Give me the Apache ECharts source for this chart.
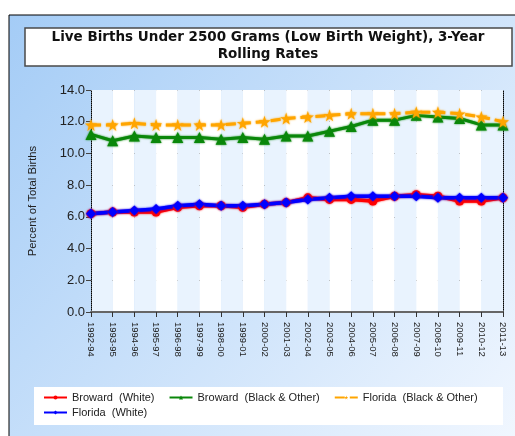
<!DOCTYPE html>
<html>
<head>
<meta charset="utf-8">
<title>Live Births Under 2500 Grams</title>
<script src="https://cdn.jsdelivr.net/npm/echarts@6/dist/echarts.min.js"></script>
<style>
  html, body { margin: 0; padding: 0; background: #fff; }
  #chart { width: 515px; height: 436px; }
</style>
</head>
<body>
<div id="chart"></div>
<script>
// 3-year periods
const periods = [
  '1992-94', '1993-95', '1994-96', '1995-97', '1996-98', '1997-99', '1998-00',
  '1999-01', '2000-02', '2001-03', '2002-04', '2003-05', '2004-06', '2005-07',
  '2006-08', '2007-09', '2008-10', '2009-11', '2010-12', '2011-13'
]

// percent of total births
const browardWhite = [6.2, 6.3, 6.3, 6.3, 6.6, 6.7, 6.7, 6.6, 6.8, 6.9, 7.2, 7.1, 7.1, 7.0, 7.3, 7.4, 7.3, 7.0, 7.0, 7.2]
const browardBlack = [11.2, 10.8, 11.1, 11.0, 11.0, 11.0, 10.9, 11.0, 10.9, 11.1, 11.1, 11.4, 11.7, 12.1, 12.1, 12.4, 12.3, 12.2, 11.8, 11.8]
const floridaBlack = [11.8, 11.8, 11.9, 11.8, 11.8, 11.8, 11.8, 11.9, 12.0, 12.2, 12.3, 12.4, 12.5, 12.5, 12.5, 12.6, 12.6, 12.5, 12.3, 12.0]
const floridaWhite = [6.2, 6.3, 6.4, 6.5, 6.7, 6.8, 6.7, 6.7, 6.8, 6.9, 7.1, 7.2, 7.3, 7.3, 7.3, 7.3, 7.2, 7.2, 7.2, 7.2]

const yTicks = { min: 0, max: 14, interval: 2 }

const names = ['Broward  (White)', 'Broward  (Black & Other)', 'Florida  (Black & Other)', 'Florida  (White)']

const STAR = 'path://M50,0 L61,35 L98,35 L68,57 L79,91 L50,70 L21,91 L32,57 L2,35 L39,35 Z'
const FONT = 'Liberation Sans, Arial, sans-serif'

const chart = echarts.init(document.getElementById('chart'))

const mkLine = (name, data, color, symbol, size, width, dash) => ({
  name,
  type: 'line',
  data,
  symbol,
  symbolSize: size,
  lineStyle: {
    color, width, type: dash || 'solid',
    shadowColor: color, shadowBlur: 2
  },
  itemStyle: { color, shadowColor: color, shadowBlur: 2 },
  emphasis: { disabled: true },
  animation: false
})

const legendCommon = {
  orient: 'horizontal',
  itemWidth: 23,
  itemHeight: 5,
  itemGap: 14,
  padding: 0,
  textStyle: { fontFamily: FONT, fontSize: 11, color: '#222' }
}

chart.setOption({
  backgroundColor: '#fff',
  graphic: [
    {
      type: 'rect', z: -100,
      shape: { x: 9, y: 15, width: 520, height: 440 },
      style: {
        fill: new echarts.graphic.LinearGradient(0, 0, 1, 1, [
          { offset: 0, color: '#a4ccf6' },
          { offset: 1, color: '#f3f8ff' }
        ]),
        stroke: '#000', lineWidth: 1
      }
    },
    {
      type: 'rect', z: -99,
      shape: { x: 25, y: 28, width: 487, height: 38 },
      style: { fill: '#fff', stroke: '#4a4a4a', lineWidth: 1.5 }
    },
    {
      type: 'rect', z: -99,
      shape: { x: 34, y: 387, width: 469, height: 38 },
      style: { fill: '#fff' }
    }
  ],
  title: {
    text: 'Live Births Under 2500 Grams (Low Birth Weight), 3-Year\nRolling Rates',
    left: 268,
    top: 29,
    padding: 0,
    textAlign: 'center',
    textStyle: {
      fontFamily: 'DejaVu Sans, Verdana, sans-serif',
      fontSize: 13.5,
      fontWeight: 'bold',
      color: '#111',
      lineHeight: 17
    }
  },
  legend: [
    Object.assign({ data: names.slice(0, 3), left: 43, top: 392 }, legendCommon),
    Object.assign({ data: names.slice(3), left: 43, top: 407 }, legendCommon)
  ],
  grid: { left: 91, right: 12, top: 90, bottom: 124, containLabel: false },
  xAxis: {
    type: 'category',
    data: periods,
    boundaryGap: false,
    axisLine: { lineStyle: { color: '#666', width: 2 } },
    axisTick: { show: true, length: 5, lineStyle: { color: '#333' } },
    axisLabel: {
      rotate: -90, margin: 10, interval: 0,
      fontFamily: FONT, fontSize: 9.5, color: '#222'
    },
    splitLine: { show: false },
    splitArea: { show: true, areaStyle: { color: ['#e9f3fe', '#ffffff'] } }
  },
  yAxis: [
    {
      type: 'value',
      min: yTicks.min, max: yTicks.max, interval: yTicks.interval,
      name: 'Percent of Total Births',
      nameLocation: 'middle',
      nameGap: 53,
      nameTextStyle: { fontFamily: FONT, fontSize: 11.3, color: '#222' },
      axisLine: { show: true, lineStyle: { color: '#000', type: 'dotted', width: 1 } },
      axisTick: { show: true, length: 5, lineStyle: { color: '#444' } },
      axisLabel: {
        margin: 6, fontFamily: FONT, fontSize: 13, color: '#222',
        formatter: v => v.toFixed(1)
      },
      splitLine: { lineStyle: { color: '#1a1a1a', width: 1 } }
    },
    {
      type: 'value', position: 'right',
      min: yTicks.min, max: yTicks.max, interval: yTicks.interval,
      axisLine: { show: true, lineStyle: { color: '#000', type: 'dotted', width: 1 } },
      axisTick: { show: false },
      axisLabel: { show: false },
      splitLine: { show: false }
    }
  ],
  series: [
    mkLine(names[0], browardWhite, '#ff0000', 'circle', 9, 3.5),
    mkLine(names[1], browardBlack, '#0a870a', 'triangle', 11, 3),
    mkLine(names[2], floridaBlack, '#ffa500', STAR, 12, 3, [10, 5]),
    mkLine(names[3], floridaWhite, '#0000ff', 'diamond', 10, 3.5)
  ]
})
</script>
</body>
</html>
